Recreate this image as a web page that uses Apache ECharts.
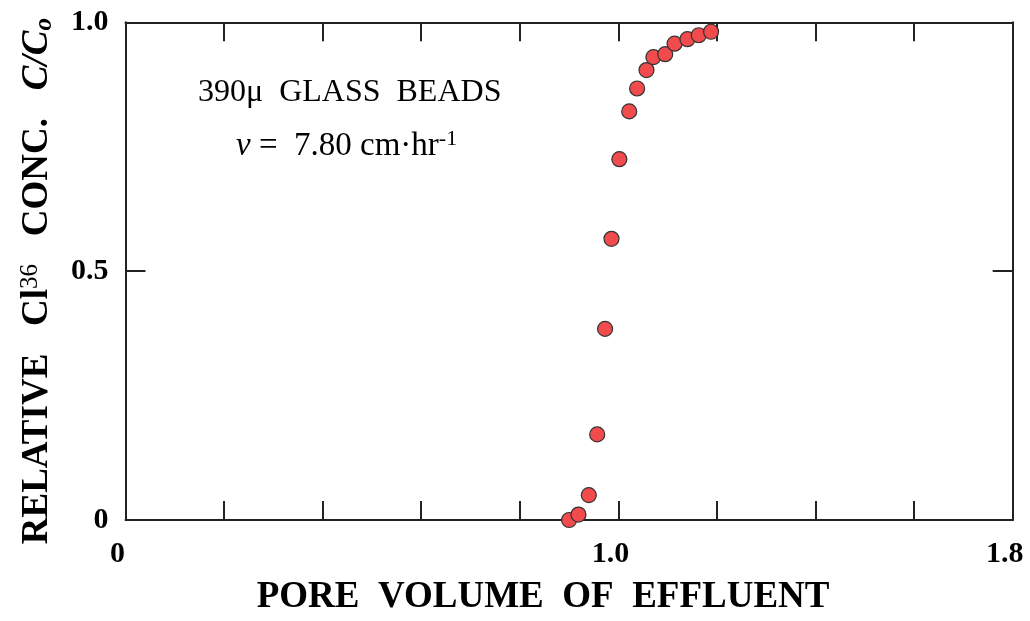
<!DOCTYPE html>
<html>
<head>
<meta charset="utf-8">
<script src="https://cdn.jsdelivr.net/npm/echarts@6/dist/echarts.min.js"></script>
<style>html,body{margin:0;padding:0;background:#fff;}#c{width:1030px;height:621px;}</style>
</head>
<body>
<div id="c"></div>
<script>
// Pore volume of effluent (x) and relative Cl-36 concentration C/Co (y)
var poreVolume = [0.900, 0.919, 0.940, 0.957, 0.973, 0.986, 1.002, 1.022, 1.038, 1.057, 1.071, 1.095, 1.114, 1.140, 1.163, 1.188];
var relConc    = [0.000, 0.011, 0.050, 0.172, 0.384, 0.565, 0.725, 0.821, 0.867, 0.904, 0.930, 0.936, 0.957, 0.966, 0.974, 0.981];
var xTickLabels = {"0": "0", "1": "1.0", "1.8": "1.8"};
var yTickLabels = {"0": "0", "0.5": "0.5", "1": "1.0"};

var serif = '"Liberation Serif", "DejaVu Serif", serif';
var axisColor = '#222';
var points = poreVolume.map(function (v, i) { return [v, relConc[i]]; });

function xLab(v) {
  var k = String(Math.round(v * 10) / 10);
  return xTickLabels[k] !== undefined ? xTickLabels[k] : '';
}
function yLab(v) {
  var k = String(Math.round(v * 10) / 10);
  return yTickLabels[k] !== undefined ? yTickLabels[k] : '';
}

var chart = echarts.init(document.getElementById('c'), null, {renderer: 'canvas'});
chart.setOption({
  animation: false,
  backgroundColor: '#fff',
  grid: {left: 125.5, right: 17.3, top: 22.3, bottom: 100.3, containLabel: false},
  xAxis: [{
    type: 'value', position: 'bottom', min: 0, max: 1.8, interval: 0.2,
    axisLine: {show: true, onZero: false, lineStyle: {color: axisColor, width: 2}},
    axisTick: {show: true, inside: true, length: 19, lineStyle: {color: axisColor, width: 2}},
    splitLine: {show: false},
    axisLabel: {
      formatter: xLab, margin: 19, color: '#000', fontFamily: serif, fontWeight: 'bold', fontSize: 30,
      padding: [0, 16, 0, 0], showMinLabel: true, showMaxLabel: true
    },
    name: 'PORE  VOLUME  OF  EFFLUENT', nameLocation: 'middle', nameGap: 59,
    nameTextStyle: {color: '#000', fontFamily: serif, fontWeight: 'bold', fontSize: 37, padding: [0, 52, 0, 0]}
  }, {
    type: 'value', position: 'top', min: 0, max: 1.8, interval: 0.2,
    axisLine: {show: true, onZero: false, lineStyle: {color: axisColor, width: 2}},
    axisTick: {show: true, inside: true, length: 19, lineStyle: {color: axisColor, width: 2}},
    splitLine: {show: false}, axisLabel: {show: false}
  }],
  yAxis: [{
    type: 'value', position: 'left', min: 0, max: 1, interval: 0.5,
    axisLine: {show: true, onZero: false, lineStyle: {color: axisColor, width: 2}},
    axisTick: {show: true, inside: true, length: 20, lineStyle: {color: axisColor, width: 2}},
    splitLine: {show: false},
    axisLabel: {formatter: yLab, margin: 17, color: '#000', fontFamily: serif, fontWeight: 'bold', fontSize: 30},
    name: '{b|RELATIVE   Cl}{sup|36}{b|   CONC.   }{i|C/C}{sub|o}',
    nameLocation: 'middle', nameRotate: 90, nameGap: 68,
    nameTextStyle: {
      color: '#000', fontFamily: serif, fontWeight: 'bold', fontSize: 37, padding: [0, 20, 0, 0],
      rich: {
        b: {fontFamily: serif, fontWeight: 'bold', fontSize: 37, color: '#000', lineHeight: 40},
        sup: {fontFamily: serif, fontWeight: 'normal', fontSize: 25, color: '#000', verticalAlign: 'top', lineHeight: 40},
        i: {fontFamily: serif, fontWeight: 'bold', fontStyle: 'italic', fontSize: 37, color: '#000', lineHeight: 40},
        sub: {fontFamily: serif, fontWeight: 'bold', fontStyle: 'italic', fontSize: 25, color: '#000', verticalAlign: 'bottom', lineHeight: 40}
      }
    }
  }, {
    type: 'value', position: 'right', min: 0, max: 1, interval: 0.5,
    axisLine: {show: true, onZero: false, lineStyle: {color: axisColor, width: 2}},
    axisTick: {show: true, inside: true, length: 20, lineStyle: {color: axisColor, width: 2}},
    splitLine: {show: false}, axisLabel: {show: false}
  }],
  graphic: [{
    type: 'text', left: 198, top: 77,
    style: {
      text: '390\u03bc  GLASS  BEADS', fontFamily: serif, fontSize: 32, fill: '#000'
    }
  }, {
    type: 'text', left: 236, top: 128,
    style: {
      text: '{i|v}{n| =  7.80 cm\u00b7hr}{s|-1}',
      rich: {
        i: {fontFamily: serif, fontStyle: 'italic', fontSize: 33, fill: '#000', lineHeight: 36},
        n: {fontFamily: serif, fontSize: 33, fill: '#000', lineHeight: 36},
        s: {fontFamily: serif, fontSize: 22, fill: '#000', verticalAlign: 'top', lineHeight: 36}
      }
    }
  }],
  series: [{
    type: 'scatter', xAxisIndex: 0, yAxisIndex: 0,
    data: points, symbol: 'circle', symbolSize: 15,
    itemStyle: {color: '#f24b4e', borderColor: '#333', borderWidth: 1.2, opacity: 1},
    clip: false
  }]
});
</script>
</body>
</html>
